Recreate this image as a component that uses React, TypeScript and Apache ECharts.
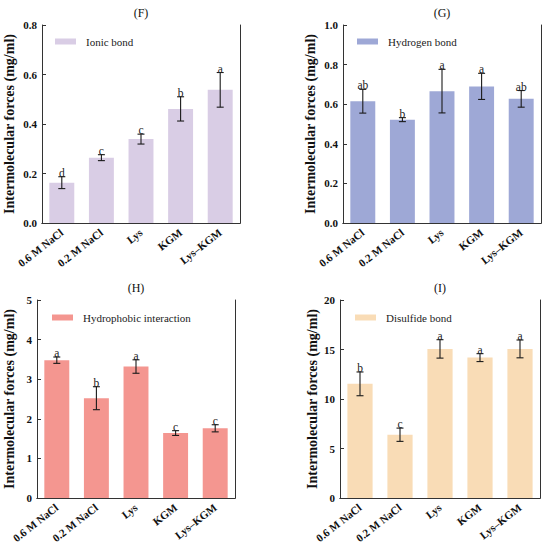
import React, { useEffect, useRef } from "react";
import * as echarts from "echarts";

const categories = ["0.6 M NaCl", "0.2 M NaCl", "Lys", "KGM", "Lys–KGM"];

const ionicMean = [0.163, 0.264, 0.339, 0.461, 0.538];
const ionicErr = [0.024, 0.012, 0.02, 0.049, 0.07];
const ionicLetters = ["d", "c", "c", "b", "a"];

const hydrogenMean = [0.615, 0.522, 0.666, 0.69, 0.627];
const hydrogenErr = [0.06, 0.01, 0.11, 0.066, 0.042];
const hydrogenLetters = ["ab", "b", "a", "a", "ab"];

const hydrophobicMean = [3.48, 2.52, 3.32, 1.64, 1.76];
const hydrophobicErr = [0.08, 0.29, 0.17, 0.06, 0.09];
const hydrophobicLetters = ["a", "b", "a", "c", "c"];

const disulfideMean = [11.53, 6.39, 15.06, 14.18, 15.06];
const disulfideErr = [1.2, 0.67, 0.93, 0.4, 0.9];
const disulfideLetters = ["b", "c", "a", "a", "a"];

const SERIF = "Liberation Serif, Times New Roman, serif";

const panels = [
  { title: "(F)", name: "Ionic bond", mean: ionicMean, err: ionicErr, letters: ionicLetters, color: "#d9cde5", max: 0.8, interval: 0.2, dec: 1,
    grid: { left: 42, top: 25, width: 198, height: 198 }, legend: { left: 50, top: 31 } },
  { title: "(G)", name: "Hydrogen bond", mean: hydrogenMean, err: hydrogenErr, letters: hydrogenLetters, color: "#9ea8d6", max: 1.0, interval: 0.2, dec: 1,
    grid: { left: 343, top: 25, width: 198, height: 198 }, legend: { left: 352, top: 31 } },
  { title: "(H)", name: "Hydrophobic interaction", mean: hydrophobicMean, err: hydrophobicErr, letters: hydrophobicLetters, color: "#f49690", max: 5, interval: 1, dec: 0,
    grid: { left: 37, top: 300, width: 198, height: 198 }, legend: { left: 47, top: 307 } },
  { title: "(I)", name: "Disulfide bond", mean: disulfideMean, err: disulfideErr, letters: disulfideLetters, color: "#f9dcb6", max: 20, interval: 5, dec: 0,
    grid: { left: 340, top: 300, width: 200, height: 198 }, legend: { left: 350, top: 307 } },
];

export default function App() {
  const ref = useRef<HTMLDivElement>(null);
  useEffect(() => {
    document.body.style.margin = "0";
    const chart = echarts.init(ref.current!, null, { renderer: "svg" });
    const grid: any[] = [];
    const xAxis: any[] = [];
    const yAxis: any[] = [];
    const series: any[] = [];
    const legend: any[] = [];
    const graphic: any[] = [];
    panels.forEach((p, i) => {
      grid.push({ ...p.grid, containLabel: false, show: false });
      xAxis.push({
        type: "category",
        gridIndex: i,
        data: categories,
        axisLine: { show: true, lineStyle: { color: "#333", width: 1 } },
        axisTick: { show: true, inside: true, alignWithLabel: true, length: 4, lineStyle: { color: "#333" } },
        axisLabel: { interval: 0, rotate: 38, fontFamily: SERIF, fontWeight: "bold", fontSize: 11, color: "#111", margin: 8 },
      });
      xAxis.push({
        type: "category",
        gridIndex: i,
        position: "top",
        data: categories,
        axisLine: { show: true, lineStyle: { color: "#333", width: 1 } },
        axisTick: { show: false },
        axisLabel: { show: false },
      });
      yAxis.push({
        type: "value",
        gridIndex: i,
        min: 0,
        max: p.max,
        interval: p.interval,
        name: "Intermolecular forces (mg/ml)",
        nameLocation: "middle",
        nameGap: p.dec ? 26 : 21,
        nameTextStyle: { fontFamily: SERIF, fontWeight: "bold", fontSize: 14, color: "#111" },
        splitLine: { show: false },
        axisLine: { show: true, lineStyle: { color: "#333", width: 1 } },
        axisTick: { show: true, inside: true, length: 4, lineStyle: { color: "#333" } },
        axisLabel: {
          fontFamily: SERIF, fontWeight: "bold", fontSize: 11, color: "#111", margin: 5,
          formatter: (v: number) => v.toFixed(p.dec),
        },
      });
      yAxis.push({
        type: "value",
        gridIndex: i,
        position: "right",
        min: 0,
        max: p.max,
        interval: p.interval,
        splitLine: { show: false },
        axisLine: { show: true, lineStyle: { color: "#333", width: 1 } },
        axisTick: { show: false },
        axisLabel: { show: false },
      });
      series.push({
        type: "bar",
        name: p.name,
        xAxisIndex: 2 * i,
        yAxisIndex: 2 * i,
        data: p.mean,
        barWidth: "63%",
        itemStyle: { color: p.color },
      });
      series.push({
        type: "custom",
        name: p.name + " error",
        xAxisIndex: 2 * i,
        yAxisIndex: 2 * i,
        data: p.mean.map((m, k) => [k, m, p.err[k], p.letters[k]]),
        encode: { x: 0, y: 1 },
        z: 5,
        renderItem: (params: any, api: any) => {
          const x = api.value(0);
          const m = api.value(1);
          const e = api.value(2);
          const letter = p.letters[params.dataIndex];
          const top = api.coord([x, m + e]);
          const bot = api.coord([x, m - e]);
          const cap = 3.5;
          const ls = { stroke: "#1a1a1a", lineWidth: 1.1 };
          return {
            type: "group",
            children: [
              { type: "line", shape: { x1: top[0], y1: top[1], x2: bot[0], y2: bot[1] }, style: ls },
              { type: "line", shape: { x1: top[0] - cap, y1: top[1], x2: top[0] + cap, y2: top[1] }, style: ls },
              { type: "line", shape: { x1: bot[0] - cap, y1: bot[1], x2: bot[0] + cap, y2: bot[1] }, style: ls },
              {
                type: "text",
                x: top[0],
                y: top[1] + 2,
                style: { text: letter, textAlign: "center", textVerticalAlign: "bottom", fontFamily: SERIF, fontSize: 11.5, fill: "#222" },
              },
            ],
          };
        },
      });
      legend.push({
        left: p.legend.left,
        top: p.legend.top,
        data: [p.name],
        icon: "rect",
        itemWidth: 21,
        itemHeight: 6,
        selectedMode: false,
        textStyle: { fontFamily: SERIF, fontSize: 11, color: "#222", padding: [0, 0, 0, 5] },
      });
      graphic.push({
        type: "text",
        x: p.grid.left + p.grid.width / 2,
        y: p.grid.top - 12,
        style: { text: p.title, textAlign: "center", textVerticalAlign: "middle", fontFamily: SERIF, fontSize: 12, fill: "#111" },
      });
    });
    chart.setOption({
      animation: false,
      backgroundColor: "#fff",
      grid,
      xAxis,
      yAxis,
      series,
      legend,
      graphic,
    });
    return () => chart.dispose();
  }, []);
  return <div ref={ref} style={{ position: "absolute", left: 0, top: 0, width: 550, height: 547 }} />;
}
